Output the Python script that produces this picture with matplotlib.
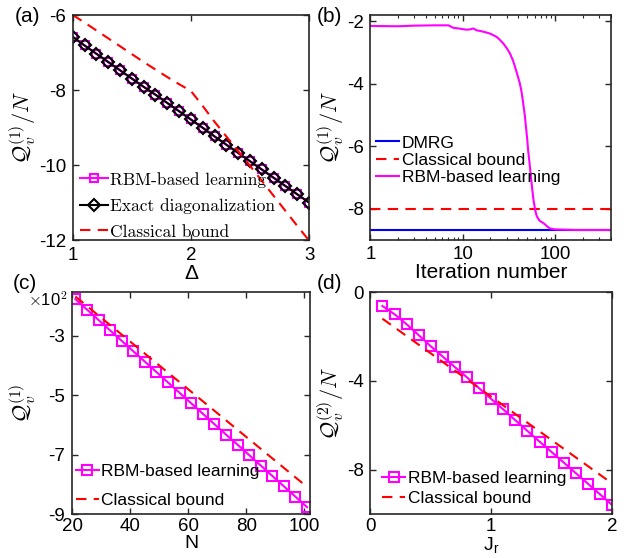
import matplotlib
matplotlib.use("Agg")
import matplotlib.pyplot as plt
from matplotlib.ticker import FuncFormatter, LogLocator, NullFormatter

# ---- data ----
# (a) energy vs anisotropy
delta = [1.0, 1.1, 1.2, 1.3, 1.4, 1.5, 1.6, 1.7, 1.8, 1.9, 2.0,
         2.1, 2.2, 2.3, 2.4, 2.5, 2.6, 2.7, 2.8, 2.9, 3.0]
exact_a = [-6.58, -6.81, -7.03, -7.25, -7.47, -7.69, -7.91, -8.12, -8.34, -8.56, -8.78,
           -9.00, -9.23, -9.45, -9.67, -9.89, -10.11, -10.33, -10.55, -10.77, -10.99]
rbm_a = [-6.58, -6.81, -7.03, -7.25, -7.47, -7.69, -7.91, -8.12, -8.34, -8.56, -8.78,
         -9.00, -9.23, -9.45, -9.67, -9.89, -10.11, -10.33, -10.55, -10.77, -10.99]
classical_a = [-6.00, -6.20, -6.41, -6.62, -6.83, -7.04, -7.25, -7.45, -7.65, -7.84, -8.02,
               -8.42, -8.84, -9.23, -9.62, -10.01, -10.41, -10.81, -11.21, -11.61, -12.00]

# (b) training curve
iters = [1, 2, 3, 5, 7, 7.9, 9, 11, 12, 13, 14.2, 16, 18.1, 20, 23.3, 25, 27.5, 30, 32.5,
         35, 36.8, 39, 41.6, 43.5, 45.2, 47, 48.4, 50, 51, 53, 54.7, 56.5, 58.3, 61,
         63.3, 66, 68.5, 72, 74.9, 81, 87.8, 100, 130, 171, 250, 400]
rbm_b = [-2.15, -2.16, -2.14, -2.13, -2.13, -2.21, -2.23, -2.27, -2.26, -2.23, -2.29, -2.32,
         -2.36, -2.40, -2.50, -2.58, -2.71, -2.86, -3.03, -3.25, -3.45, -3.70, -3.99,
         -4.28, -4.62, -5.00, -5.37, -5.78, -6.10, -6.55, -6.96, -7.35, -7.70, -8.05,
         -8.23, -8.33, -8.39, -8.43, -8.46, -8.55, -8.63, -8.66, -8.67, -8.68, -8.68, -8.68]
dmrg_b = -8.68
classical_b = -8.0

# (c) energy vs system size
n_sites = [21, 25, 29, 33, 37, 41, 45, 49, 53, 57, 61, 65, 69, 73, 77, 81, 85, 89, 93, 97, 101]
rbm_c = [-177, -212, -247, -282, -317, -352, -387, -422, -457, -492, -527,
         -562, -597, -632, -666, -701, -736, -771, -806, -841, -876]
classical_c = [-168, -200, -232, -264, -296, -328, -360, -392, -424, -456, -488,
               -520, -552, -584, -616, -648, -680, -712, -744, -776, -808]

# (d) energy vs J_r
jr = [0.1, 0.2, 0.3, 0.4, 0.5, 0.6, 0.7, 0.8, 0.9, 1.0,
      1.1, 1.2, 1.3, 1.4, 1.5, 1.6, 1.7, 1.8, 1.9, 2.0]
rbm_d = [-0.63, -1.00, -1.45, -1.94, -2.44, -2.91, -3.38, -3.84, -4.33, -4.81,
         -5.28, -5.77, -6.25, -6.73, -7.20, -7.67, -8.15, -8.62, -9.10, -9.58]
classical_d = [-1.20, -1.59, -1.98, -2.37, -2.76, -3.15, -3.54, -3.93, -4.32, -4.71,
               -5.10, -5.49, -5.88, -6.27, -6.66, -7.05, -7.44, -7.83, -8.22, -8.61]

MAG = "#ff00ff"
RED = "#ff0000"
BLUE = "#0000ff"
AXC = "#262626"
DASH = (0, (5, 3.5))

plt.rcParams["font.family"] = ["Liberation Sans", "DejaVu Sans"]
plt.rcParams["mathtext.fontset"] = "cm"
plt.rcParams["axes.unicode_minus"] = False
plt.rcParams["axes.edgecolor"] = AXC
plt.rcParams["axes.linewidth"] = 1.2
plt.rcParams["xtick.color"] = AXC
plt.rcParams["ytick.color"] = AXC
plt.rcParams["xtick.labelcolor"] = "black"
plt.rcParams["ytick.labelcolor"] = "black"

fig = plt.figure(figsize=(6.28, 5.58), dpi=100)
ax_a = fig.add_axes([0.1158, 0.569, 0.3763, 0.4041])
ax_b = fig.add_axes([0.5897, 0.5699, 0.3833, 0.4032])
ax_c = fig.add_axes([0.1154, 0.0783, 0.3782, 0.3989])
ax_d = fig.add_axes([0.5897, 0.0783, 0.3849, 0.3984])


def style(ax, xpad=4.5, ypad=4.5):
    ax.tick_params(which="major", direction="in", length=4, width=1.0,
                   top=True, right=True, labelsize=13.5)
    ax.tick_params(axis="x", which="major", pad=xpad)
    ax.tick_params(axis="y", which="major", pad=ypad)
    ax.tick_params(which="minor", direction="in", length=2, width=0.8,
                   top=True, right=True)


ylab1 = r"$\mathcal{Q}_v^{(1)}/N$"

# (a)
ax_a.plot(delta, rbm_a, color=MAG, lw=1.5, marker="s", ms=6, mfc="none",
          mew=1.5, label="RBM-based learning")
ax_a.plot(delta, exact_a, color="black", lw=1.5, marker="D", ms=6, mfc="none",
          mew=1.5, label="Exact diagonalization")
ax_a.plot(delta, classical_a, color=RED, lw=1.5, ls=DASH, label="Classical bound")
ax_a.set_xlim(1, 3)
ax_a.set_ylim(-12, -6)
ax_a.set_xticks([1, 2, 3])
ax_a.set_yticks([-12, -10, -8, -6])
ax_a.set_xlabel("Δ", fontsize=15, labelpad=0)
ax_a.set_ylabel(ylab1, fontsize=16, labelpad=1)
style(ax_a)
ax_a.legend(loc="upper left", bbox_to_anchor=(0.03, 0.305), frameon=False,
            borderpad=0, borderaxespad=0, handlelength=1.6, handletextpad=0.15,
            labelspacing=0.6, prop={"family": "cmr10", "size": 12.5})

# (b)
ax_b.plot([1, 400], [dmrg_b, dmrg_b], color=BLUE, lw=1.5, label="DMRG")
ax_b.plot([1, 400], [classical_b, classical_b], color=RED, lw=1.5,
          ls=DASH, label="Classical bound")
ax_b.plot(iters, rbm_b, color=MAG, lw=1.5, label="RBM-based learning")
ax_b.set_xscale("log")
ax_b.set_xlim(1, 404)
ax_b.set_ylim(-9, -1.8)
ax_b.set_xticks([1, 10, 100])
ax_b.set_xticklabels(["1", "10", "100"])
ax_b.xaxis.set_minor_locator(LogLocator(base=10, subs=range(2, 10)))
ax_b.xaxis.set_minor_formatter(NullFormatter())
ax_b.set_yticks([-8, -6, -4, -2])
ax_b.set_xlabel("Iteration number", fontsize=15, labelpad=0)
ax_b.set_ylabel(ylab1, fontsize=16, labelpad=1)
style(ax_b)
ax_b.legend(loc="upper left", bbox_to_anchor=(0.025, 0.465), frameon=False,
            borderpad=0, borderaxespad=0, handlelength=1.3, handletextpad=0.15,
            labelspacing=0.12, prop={"size": 12.5})

# (c)
ax_c.plot(n_sites, rbm_c, color=MAG, lw=1.5, marker="s", ms=6.5, mfc="none",
          mew=1.5, label="RBM-based learning")
ax_c.plot(n_sites, classical_c, color=RED, lw=1.5, ls=DASH, label="Classical bound")
ax_c.set_xlim(20, 102)
ax_c.set_ylim(-900, -152)
ax_c.set_xticks([20, 40, 60, 80, 100])
ax_c.set_yticks([-900, -700, -500, -300])
ax_c.yaxis.set_major_formatter(FuncFormatter(lambda v, p: "%d" % round(v / 100)))
ax_c.set_xlabel("N", fontsize=14, labelpad=0)
ax_c.set_ylabel(r"$\mathcal{Q}_v^{(1)}$", fontsize=16, labelpad=7)
ax_c.text(-0.02, 0.965, r"$\times$10$^2$", transform=ax_c.transAxes,
          ha="right", va="center", fontsize=12)
style(ax_c, xpad=3, ypad=5.5)
ax_c.legend(loc="upper left", bbox_to_anchor=(0.015, 0.225), frameon=False,
            borderpad=0, borderaxespad=0, handlelength=1.3, handletextpad=0.15,
            labelspacing=0.8, prop={"size": 12.5})

# (d)
ax_d.plot(jr, rbm_d, color=MAG, lw=1.5, marker="s", ms=6.5, mfc="none",
          mew=1.5, label="RBM-based learning")
ax_d.plot(jr, classical_d, color=RED, lw=1.5, ls=DASH, label="Classical bound")
ax_d.set_xlim(0, 2)
ax_d.set_ylim(-10, 0)
ax_d.set_xticks([0, 1, 2])
ax_d.set_yticks([-8, -4, 0])
ax_d.set_xlabel(r"J$_{\mathregular{r}}$", fontsize=14, labelpad=0)
ax_d.set_ylabel(r"$\mathcal{Q}_v^{(2)}/N$", fontsize=16, labelpad=1)
style(ax_d, xpad=3)
ax_d.legend(loc="upper left", bbox_to_anchor=(0.05, 0.195), frameon=False,
            borderpad=0, borderaxespad=0, handlelength=1.3, handletextpad=0.15,
            labelspacing=0.3, prop={"size": 12.5})

# panel tags
for lbl, x, y in [("(a)", 15, 16.5), ("(b)", 317, 16.5), ("(c)", 13, 283.5), ("(d)", 317, 283.5)]:
    fig.text(x / 628, 1 - y / 558, lbl, ha="left", va="center", fontsize=15)

fig.savefig("out.png", dpi=100)
